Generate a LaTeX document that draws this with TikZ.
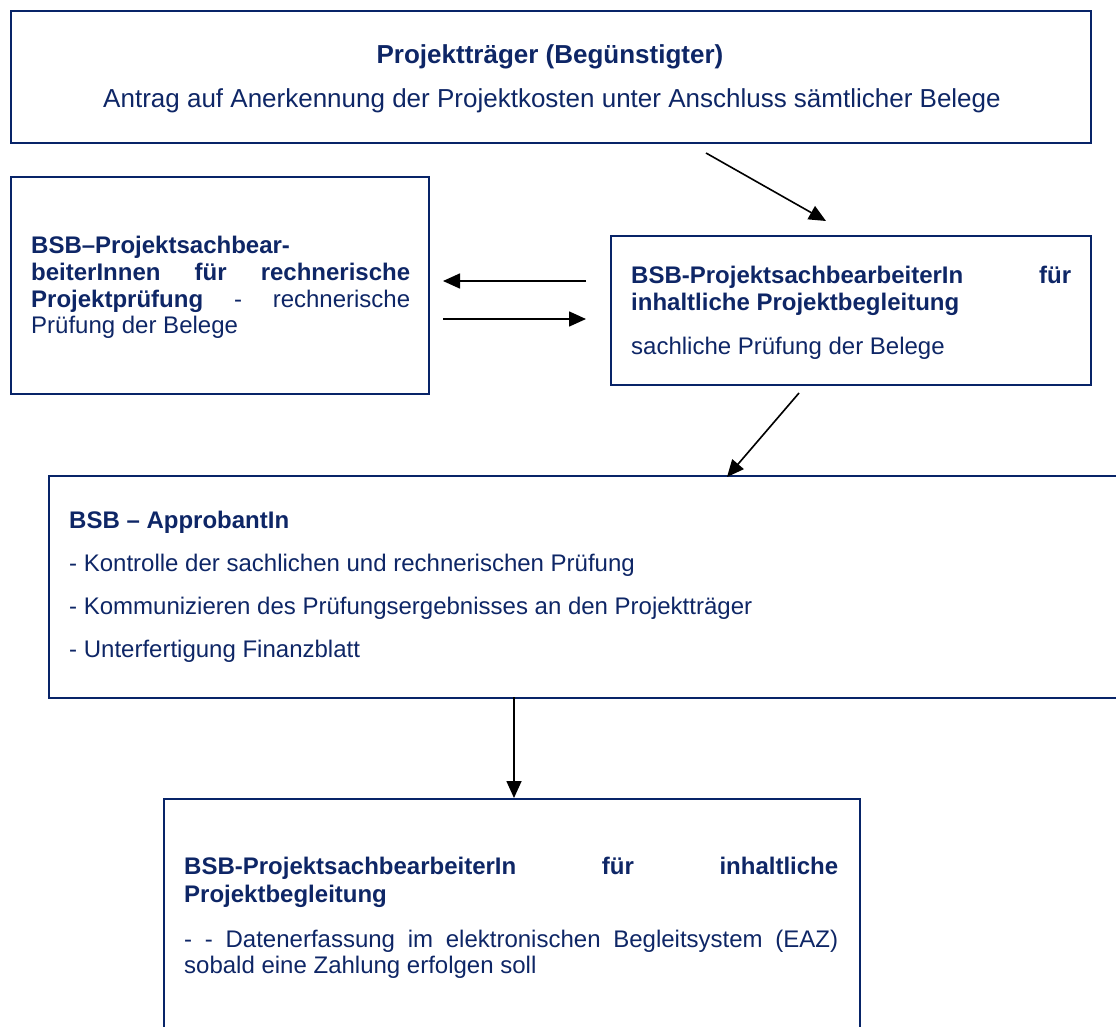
\documentclass[tikz,border=0pt]{standalone}
\usepackage{fontspec}
\setmainfont{Liberation Sans}
\usetikzlibrary{arrows.meta}
\definecolor{navyline}{RGB}{8,36,104}
\definecolor{navytext}{RGB}{14,38,102}
\begin{document}
\begin{tikzpicture}[x=1pt,y=-1pt,
  box/.style={draw=navyline,line width=2.2pt,anchor=north west,inner sep=0pt},
  txt/.style={anchor=base west,inner sep=0pt,text=navytext,font=\fontsize{24}{28}\selectfont},
  head/.style={anchor=base,inner sep=0pt,text=navytext,font=\fontsize{26}{30}\selectfont},
  flow/.style={draw=black,line width=1.6pt,-{Triangle[length=17pt,width=15pt]}}]
\useasboundingbox (0,0) rectangle (1116,1026);
\clip (0,0) rectangle (1116,1026);

% boxes
\node[box,minimum width=1080pt,minimum height=132pt] (trager) at (10,10) {};
\node[box,minimum width=418pt,minimum height=217pt] (rech) at (10,176) {};
\node[box,minimum width=480pt,minimum height=149pt] (inhalt) at (610,235) {};
\node[box,minimum width=1100pt,minimum height=222pt] (approb) at (48,475) {};
\node[box,minimum width=696pt,minimum height=260pt] (eaz) at (163,798) {};

% top box text
\node[head,font=\fontsize{26}{30}\selectfont\bfseries] (t0a) at (550,63) {Projektträger (Begünstigter)};
\node[head] (t0b) at (552,107) {Antrag auf Anerkennung der Projektkosten unter Anschluss sämtlicher Belege};

% left box text
\node[txt] (t1a) at (31,253) {\textbf{BSB–Projektsachbear-}};
\node[txt] (t1b) at (31,280) {\makebox[379pt][s]{\textbf{beiterInnen für rechnerische}}};
\node[txt] (t1c) at (31,307) {\makebox[379pt][s]{\textbf{Projektprüfung} - rechnerische}};
\node[txt] (t1d) at (31,333) {Prüfung der Belege};

% right box text
\node[txt] (t2a) at (631,283) {\makebox[440pt][s]{\textbf{BSB-ProjektsachbearbeiterIn für}}};
\node[txt] (t2b) at (631,310) {\textbf{inhaltliche Projektbegleitung}};
\node[txt] (t2c) at (631,354) {sachliche Prüfung der Belege};

% approval box text
\node[txt] (t3a) at (69,528) {\textbf{BSB – ApprobantIn}};
\node[txt] (t3b) at (69,571) {- Kontrolle der sachlichen und rechnerischen Prüfung};
\node[txt] (t3c) at (69,614) {- Kommunizieren des Prüfungsergebnisses an den Projektträger};
\node[txt] (t3d) at (69,657) {- Unterfertigung Finanzblatt};

% bottom box text
\node[txt] (t4a) at (184,874) {\makebox[654pt][s]{\textbf{BSB-ProjektsachbearbeiterIn für inhaltliche}}};
\node[txt] (t4b) at (184,902) {\textbf{Projektbegleitung}};
\node[txt] (t4c) at (184,947) {\makebox[654pt][s]{- - Datenerfassung im elektronischen Begleitsystem (EAZ)}};
\node[txt] (t4d) at (184,973) {sobald eine Zahlung erfolgen soll};

% connector end points
\coordinate (a1s) at (706,153);
\coordinate (a1e) at (826,221);
\coordinate (a2s) at (586,281);
\coordinate (a2e) at (443,281);
\coordinate (a3s) at (443,319);
\coordinate (a3e) at (586,319);
\coordinate (a4s) at (799,393);
\coordinate (a4e) at (727,477);
\coordinate (a5s) at (514,697);
\coordinate (a5e) at (514,798);

% connectors
\draw[flow] (a1s) -- (a1e);
\draw[flow] (a2s) -- (a2e);
\draw[flow] (a3s) -- (a3e);
\draw[flow] (a4s) -- (a4e);
\draw[flow] (a5s) -- (a5e);
\end{tikzpicture}
\end{document}
